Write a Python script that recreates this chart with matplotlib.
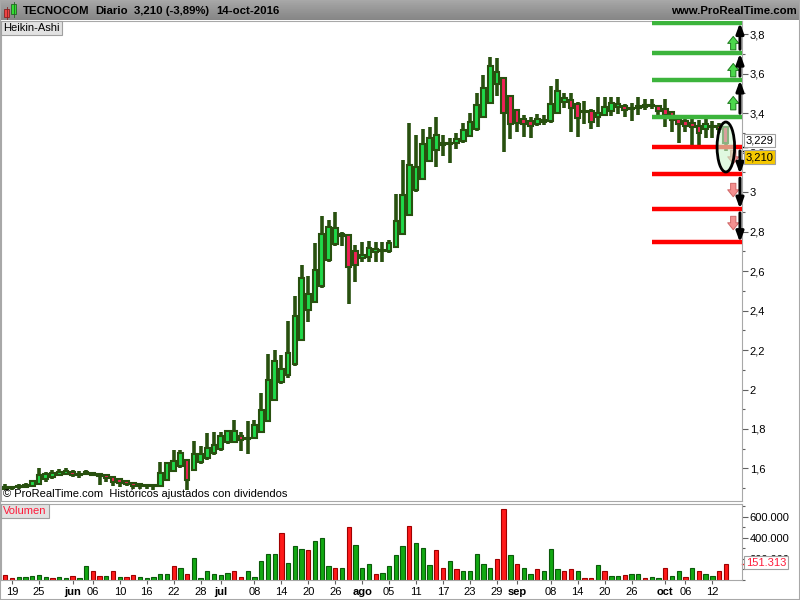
import matplotlib.pyplot as plt
import matplotlib.patches as mpatches
from matplotlib.ticker import MultipleLocator, FuncFormatter, FixedLocator
import numpy as np
import pandas as pd

plt.rcParams['font.family'] = ['Liberation Sans', 'DejaVu Sans']

# TECNOCOM, daily Heikin-Ashi candles, 18-may-2016 .. 14-oct-2016
dates = pd.bdate_range("2016-05-18", "2016-10-14")

ha_open = [
    1.498, 1.503, 1.505, 1.508, 1.513, 1.524, 1.545, 1.557, 1.566, 1.574,
    1.580, 1.572, 1.570, 1.575, 1.571, 1.566, 1.558, 1.545, 1.535, 1.528,
    1.520, 1.515, 1.512, 1.509, 1.542, 1.587, 1.613, 1.644, 1.594, 1.632,
    1.652, 1.678, 1.700, 1.733, 1.735, 1.765, 1.755, 1.756, 1.785, 1.843,
    1.945, 2.040, 2.072, 2.128, 2.250, 2.405, 2.445, 2.525, 2.656, 2.739,
    2.778, 2.780, 2.700, 2.665, 2.672, 2.695, 2.702, 2.700, 2.720, 2.786,
    2.885, 3.010, 3.068, 3.155, 3.213, 3.250, 3.245, 3.247, 3.256, 3.285,
    3.320, 3.380, 3.453, 3.545, 3.577, 3.488, 3.416, 3.370, 3.358, 3.346,
    3.357, 3.359, 3.402, 3.456, 3.466, 3.445, 3.410, 3.408, 3.382, 3.392,
    3.410, 3.430, 3.438, 3.426, 3.423, 3.430, 3.435, 3.437, 3.420, 3.405,
    3.368, 3.358, 3.348, 3.332, 3.318, 3.330, 3.335, 3.328,
]
ha_high = [
    1.522, 1.512, 1.522, 1.525, 1.540, 1.603, 1.580, 1.590, 1.598, 1.603,
    1.590, 1.587, 1.593, 1.581, 1.576, 1.573, 1.560, 1.548, 1.537, 1.530,
    1.522, 1.518, 1.519, 1.632, 1.635, 1.695, 1.695, 1.644, 1.737, 1.716,
    1.779, 1.787, 1.787, 1.796, 1.847, 1.787, 1.838, 1.847, 1.983, 2.181,
    2.198, 2.173, 2.345, 2.471, 2.628, 2.577, 2.741, 2.881, 2.856, 2.898,
    2.797, 2.780, 2.734, 2.746, 2.754, 2.746, 2.748, 2.757, 2.990, 3.162,
    3.351, 3.288, 3.319, 3.331, 3.381, 3.288, 3.276, 3.297, 3.347, 3.398,
    3.500, 3.593, 3.685, 3.677, 3.577, 3.491, 3.420, 3.390, 3.382, 3.395,
    3.390, 3.537, 3.571, 3.500, 3.500, 3.457, 3.462, 3.419, 3.483, 3.483,
    3.483, 3.480, 3.446, 3.449, 3.483, 3.469, 3.469, 3.440, 3.469, 3.412,
    3.390, 3.385, 3.373, 3.365, 3.368, 3.361, 3.350, 3.330,
]
ha_low = [
    1.489, 1.490, 1.495, 1.500, 1.505, 1.515, 1.530, 1.545, 1.560, 1.565,
    1.555, 1.553, 1.566, 1.560, 1.514, 1.531, 1.509, 1.505, 1.509, 1.497,
    1.497, 1.497, 1.492, 1.505, 1.540, 1.585, 1.603, 1.489, 1.590, 1.625,
    1.645, 1.668, 1.688, 1.725, 1.730, 1.691, 1.674, 1.750, 1.780, 1.840,
    1.940, 2.030, 2.060, 2.120, 2.245, 2.342, 2.437, 2.515, 2.648, 2.729,
    2.727, 2.435, 2.544, 2.645, 2.645, 2.645, 2.647, 2.693, 2.715, 2.780,
    2.880, 3.000, 3.060, 3.150, 3.125, 3.184, 3.148, 3.219, 3.250, 3.280,
    3.310, 3.375, 3.449, 3.486, 3.204, 3.267, 3.306, 3.277, 3.272, 3.334,
    3.339, 3.350, 3.400, 3.424, 3.306, 3.277, 3.344, 3.318, 3.327, 3.390,
    3.385, 3.395, 3.382, 3.361, 3.390, 3.415, 3.419, 3.390, 3.327, 3.305,
    3.250, 3.305, 3.238, 3.238, 3.272, 3.272, 3.300, 3.210,
]
ha_close = [
    1.508, 1.506, 1.510, 1.518, 1.535, 1.565, 1.570, 1.576, 1.582, 1.585,
    1.565, 1.568, 1.580, 1.568, 1.562, 1.550, 1.531, 1.526, 1.522, 1.512,
    1.510, 1.509, 1.516, 1.575, 1.630, 1.640, 1.676, 1.544, 1.671, 1.671,
    1.705, 1.720, 1.767, 1.790, 1.790, 1.745, 1.752, 1.820, 1.897, 2.046,
    2.142, 2.105, 2.184, 2.374, 2.566, 2.485, 2.606, 2.788, 2.822, 2.817,
    2.785, 2.622, 2.630, 2.680, 2.717, 2.709, 2.705, 2.743, 2.853, 2.985,
    3.137, 3.128, 3.241, 3.272, 3.288, 3.240, 3.250, 3.266, 3.314, 3.356,
    3.441, 3.525, 3.638, 3.609, 3.398, 3.344, 3.350, 3.345, 3.332, 3.368,
    3.362, 3.446, 3.513, 3.474, 3.424, 3.373, 3.405, 3.356, 3.402, 3.429,
    3.449, 3.446, 3.415, 3.420, 3.436, 3.440, 3.440, 3.410, 3.390, 3.365,
    3.344, 3.334, 3.327, 3.300, 3.343, 3.333, 3.320, 3.250,
]

volume = [
    52000, 23000, 32000, 32000, 42000, 52000, 32000, 16000, 32000, 23000,
    42000, 16000, 129000, 90000, 42000, 42000, 90000, 26000, 32000, 52000,
    32000, 16000, 26000, 58000, 58000, 129000, 110000, 61000, 213000, 23000,
    81000, 61000, 52000, 71000, 90000, 32000, 81000, 32000, 177000, 245000,
    245000, 445000, 158000, 323000, 294000, 284000, 371000, 400000, 129000, 119000,
    110000, 506000, 332000, 119000, 148000, 61000, 71000, 129000, 235000, 323000,
    516000, 352000, 303000, 139000, 284000, 119000, 177000, 100000, 81000, 90000,
    245000, 148000, 119000, 197000, 680000, 235000, 148000, 119000, 61000, 100000,
    90000, 294000, 100000, 81000, 100000, 81000, 23000, 23000, 139000, 90000,
    42000, 42000, 52000, 61000, 61000, 23000, 32000, 23000, 119000, 42000,
    81000, 32000, 119000, 90000, 61000, 42000, 90000, 151313,
]
# g = close up, r = close down
volume_dir = ("rrgggggrgg" "rggrrgrgrr" "gggggrgrgg" "ggggrrgggg"
              "grgggrgggr" "grgggrgggg" "rgggrrgrgg" "gggrrgrggr"
              "gggrrgrrgr" "ggrggrggrg" "grgrggrr")

tick_dates = ["2016-05-19", "2016-05-25", "2016-06-01", "2016-06-06", "2016-06-10",
              "2016-06-16", "2016-06-22", "2016-06-28", "2016-07-01", "2016-07-08",
              "2016-07-14", "2016-07-20", "2016-07-26", "2016-08-01", "2016-08-05",
              "2016-08-11", "2016-08-17", "2016-08-23", "2016-08-29", "2016-09-01",
              "2016-09-08", "2016-09-14", "2016-09-20", "2016-09-26", "2016-10-03",
              "2016-10-06", "2016-10-12"]
tick_labels = ["19", "25", "jun", "06", "10", "16", "22", "28", "jul", "08", "14",
               "20", "26", "ago", "05", "11", "17", "23", "29", "sep", "08", "14",
               "20", "26", "oct", "06", "12"]
month_labels = {"jun", "jul", "ago", "sep", "oct"}

# projection levels drawn at the right edge
levels_up = [3.378, 3.566, 3.702, 3.857]
levels_down = [3.229, 3.091, 2.915, 2.745]
up_marks = [3.45, 3.617, 3.754]
down_marks = [3.177, 3.01, 2.843]
last_price = 3.210
ref_price = 3.229

DARK = "#28500f"
BULL = "#1fd94a"
BEAR = "#f02058"


def px(l, t, r, b):
    return [l / 800, 1 - b / 600, (r - l) / 800, (b - t) / 600]


def comma(v, pos=None):
    s = f"{v:.1f}".rstrip("0").rstrip(".")
    return s.replace(".", ",")


def thousands(v, pos=None):
    return f"{int(round(v)):,}".replace(",", ".")


fig = plt.figure(figsize=(8, 6), dpi=100)
fig.patch.set_facecolor("white")

# header band
ax_h = fig.add_axes(px(0, 0, 800, 20))
grad = np.linspace(0, 1, 20).reshape(-1, 1)
ax_h.imshow(grad, extent=[0, 800, 20, 0], cmap="Greys", vmin=-4, vmax=5, aspect="auto")
ax_h.set_xlim(0, 800)
ax_h.set_ylim(20, 0)
ax_h.axis("off")
ax_h.add_patch(mpatches.Rectangle((4, 9), 5, 8, fc="#ee4444", ec="#882222", lw=0.6))
ax_h.add_patch(mpatches.Rectangle((11, 4), 5, 10, fc="#33dd33", ec="#226622", lw=0.6))
ax_h.plot([6.5, 6.5], [7, 19], color="#882222", lw=0.6)
ax_h.plot([13.5, 13.5], [2, 17], color="#226622", lw=0.6)
hdr = dict(fontsize=8.2, fontweight="bold", va="center")
ax_h.text(23, 10.5, "TECNOCOM", **hdr)
ax_h.text(95, 10.5, "Diario", **hdr)
ax_h.text(134, 10.5, "3,210 (-3,89%)", **hdr)
ax_h.text(216, 10.5, "14-oct-2016", **hdr)
ax_h.text(797, 10.5, "www.ProRealTime.com", ha="right", **hdr)

# price panel
ax = fig.add_axes(px(1, 21, 742, 501))
x = np.arange(len(dates))
body_w = 0.7
for i in x:
    o, h, l, c = ha_open[i], ha_high[i], ha_low[i], ha_close[i]
    ax.vlines(i, l, h, color=DARK, lw=2.6, zorder=2)
    lo, hi = min(o, c), max(o, c)
    if hi - lo < 0.006:
        mid = (hi + lo) / 2
        lo, hi = mid - 0.003, mid + 0.003
    ax.add_patch(mpatches.Rectangle((i - body_w / 2, lo), body_w, hi - lo,
                                    fc=BULL if c >= o else BEAR, ec=DARK, lw=1.5, zorder=3))

ax.set_xlim(-0.64, 109.4)
ax.set_ylim(1.4354, 3.866)

x0 = (652 - 5.3) / 6.73
ax.hlines(levels_up, x0, 110, color="#3cb43c", lw=3.2, zorder=4)
ax.hlines(levels_down, x0, 110, color="#ff0000", lw=3.2, zorder=4)

xa = 108.1
arrow_style = "simple,head_width=0.8,head_length=0.5,tail_width=0.38"
for y in up_marks:
    ax.annotate("", xy=(xa, y + 0.034), xytext=(xa, y - 0.034),
                arrowprops=dict(arrowstyle=arrow_style, mutation_scale=10, shrinkA=0, shrinkB=0,
                                fc="#4cd84c", ec="#1f7a1f", lw=0.7), zorder=5)
for y in down_marks:
    ax.annotate("", xy=(xa, y - 0.034), xytext=(xa, y + 0.034),
                arrowprops=dict(arrowstyle=arrow_style, mutation_scale=10, shrinkA=0, shrinkB=0,
                                fc="#f49090", ec="#d06868", lw=0.7), zorder=5)
xb = 109.1
for lv in (levels_up, levels_down):
    for a, b in zip(lv[:-1], lv[1:]):
        ax.annotate("", xy=(xb, b), xytext=(xb, a),
                    arrowprops=dict(arrowstyle="-|>,head_width=0.22,head_length=0.6",
                                    color="black", lw=2.2, shrinkA=3, shrinkB=0), zorder=6)

ax.add_patch(mpatches.Ellipse((107, 3.228), 2.6, 0.253, fc=(0.8, 0.96, 0.8, 0.6),
                              ec="black", lw=2, zorder=7))

ax.yaxis.tick_right()
ax.yaxis.set_major_locator(MultipleLocator(0.2))
ax.yaxis.set_minor_locator(MultipleLocator(0.1))
ax.yaxis.set_major_formatter(FuncFormatter(comma))
ax.tick_params(axis="y", which="major", length=4, width=0.8, color="#606060", labelsize=8, pad=1.5)
ax.tick_params(axis="y", which="minor", length=2.5, width=0.8, color="#606060")
ax.set_xticks([])
for s in ax.spines.values():
    s.set_color("#a8a8a8")

# price tags on the right axis (they hide the 3,2 label, as in the original)
ax.text(1.005, ref_price + 0.033, "3,229", transform=ax.get_yaxis_transform(),
        fontsize=8, va="center", ha="left", zorder=10,
        bbox=dict(boxstyle="square,pad=0.15", fc="white", ec="#a0a0a0", lw=0.8))
ax.text(1.005, last_price - 0.033, "3,210", transform=ax.get_yaxis_transform(),
        fontsize=8, va="center", ha="left", zorder=10,
        bbox=dict(boxstyle="square,pad=0.15", fc="#f5c800", ec="#a0a0a0", lw=0.8))
ax.plot([1.0, 1.007], [ref_price, ref_price], transform=ax.get_yaxis_transform(),
        color="black", lw=1, clip_on=False)
ax.plot([1.0, 1.007], [last_price, last_price], transform=ax.get_yaxis_transform(),
        color="black", lw=1, clip_on=False)

fig.text(3 / 800, 1 - 28 / 600, "Heikin-Ashi", fontsize=8, va="center",
         bbox=dict(boxstyle="square,pad=0.2", fc="#e2e2e2", ec="#a0a0a0", lw=0.8))
fig.text(3 / 800, 1 - 494 / 600, "© ProRealTime.com  Históricos ajustados con dividendos",
         fontsize=8, va="center")

# volume panel
ax_v = fig.add_axes(px(1, 504, 742, 580))
fc = ["#12a812" if d == "g" else "#ff1a1a" for d in volume_dir]
ec = ["#0a5a0a" if d == "g" else "#a00000" for d in volume_dir]
ax_v.bar(x, volume, width=0.64, color=fc, edgecolor=ec, lw=0.8)
ax_v.set_xlim(-0.64, 109.4)
ax_v.set_ylim(0, 723800)
ax_v.yaxis.tick_right()
ax_v.yaxis.set_major_locator(FixedLocator([200000, 400000, 600000]))
ax_v.yaxis.set_minor_locator(MultipleLocator(100000))
ax_v.yaxis.set_major_formatter(FuncFormatter(thousands))
ax_v.tick_params(axis="y", which="major", length=4, width=0.8, color="#606060", labelsize=8, pad=1.5)
ax_v.tick_params(axis="y", which="minor", length=2.5, width=0.8, color="#606060")
for s in ax_v.spines.values():
    s.set_color("#a8a8a8")

tick_pos = [dates.get_loc(pd.Timestamp(d)) for d in tick_dates]
ax_v.set_xticks(tick_pos)
ax_v.set_xticklabels(tick_labels, fontsize=8)
for t in ax_v.get_xticklabels():
    if t.get_text() in month_labels:
        t.set_fontweight("bold")
ax_v.tick_params(axis="x", length=3, width=0.8, color="#606060", pad=2)

ax_v.text(1.005, volume[-1] + 15000, thousands(volume[-1]), transform=ax_v.get_yaxis_transform(),
          fontsize=8, color="#ff1a3a", va="center", ha="left", zorder=10,
          bbox=dict(boxstyle="square,pad=0.15", fc="white", ec="#a0a0a0", lw=0.8))
ax_v.plot([1.0, 1.006], [volume[-1], volume[-1]], transform=ax_v.get_yaxis_transform(),
          color="#ff1a1a", lw=1, clip_on=False)

fig.text(3 / 800, 1 - 511 / 600, "Volumen", fontsize=8, color="#ff1a3a", va="center",
         bbox=dict(boxstyle="square,pad=0.2", fc="#e2e2e2", ec="#a0a0a0", lw=0.8))

fig.add_artist(mpatches.Rectangle((0, 0), 1, 1, transform=fig.transFigure,
                                  fill=False, ec="#a8a8a8", lw=1.5))

fig.savefig("out.png", dpi=100)
